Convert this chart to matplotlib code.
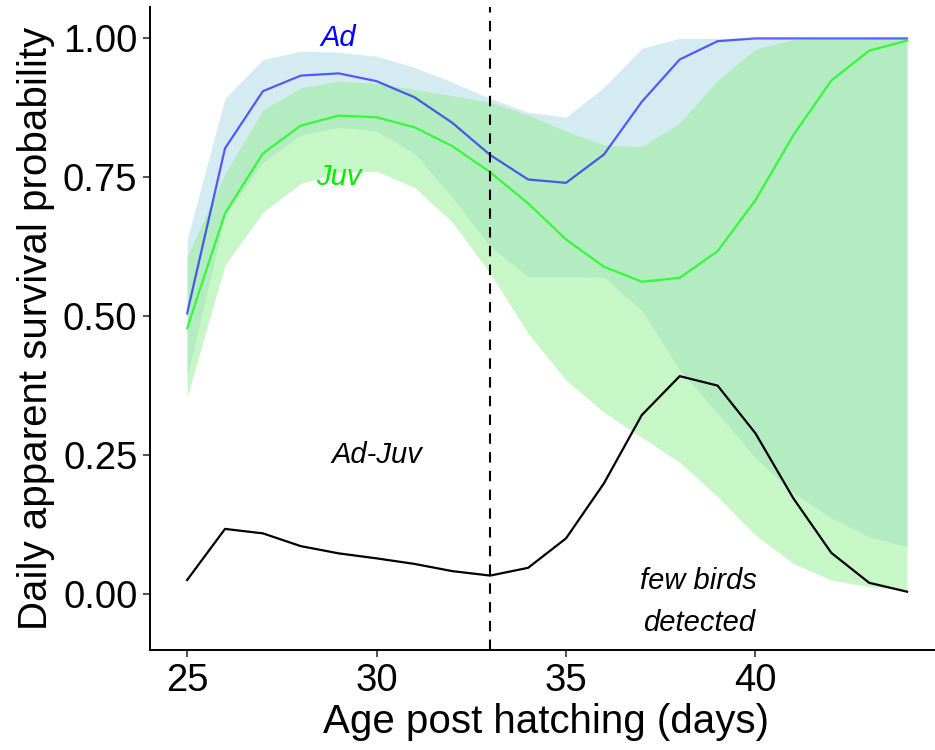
import matplotlib
matplotlib.use("Agg")
import matplotlib.pyplot as plt

plt.rcParams['font.family'] = ['Liberation Sans', 'DejaVu Sans']

age = list(range(25, 45))

ad_mean = [0.505, 0.802, 0.905, 0.933, 0.937, 0.923, 0.894, 0.848, 0.790, 0.746,
           0.740, 0.791, 0.886, 0.962, 0.995, 1.0, 1.0, 1.0, 1.0, 1.0]
ad_upper = [0.638, 0.892, 0.962, 0.977, 0.975, 0.968, 0.948, 0.921, 0.892, 0.867,
            0.858, 0.912, 0.982, 1.0, 1.0, 1.0, 1.0, 1.0, 1.0, 1.0]
ad_lower = [0.39, 0.681, 0.777, 0.826, 0.840, 0.833, 0.793, 0.714, 0.625, 0.571,
            0.571, 0.570, 0.510, 0.403, 0.325, 0.245, 0.182, 0.137, 0.103, 0.085]

juv_mean = [0.478, 0.685, 0.793, 0.843, 0.861, 0.858, 0.840, 0.806, 0.759, 0.703,
            0.638, 0.589, 0.562, 0.569, 0.617, 0.709, 0.826, 0.924, 0.978, 0.996]
juv_upper = [0.607, 0.757, 0.871, 0.911, 0.923, 0.919, 0.908, 0.897, 0.885, 0.862,
             0.833, 0.808, 0.805, 0.848, 0.924, 0.981, 0.998, 1.0, 1.0, 1.0]
juv_lower = [0.354, 0.592, 0.687, 0.739, 0.759, 0.761, 0.732, 0.669, 0.577, 0.469,
             0.385, 0.327, 0.282, 0.237, 0.175, 0.106, 0.055, 0.025, 0.013, 0.007]

ad_juv = [0.025, 0.117, 0.109, 0.086, 0.073, 0.064, 0.054, 0.041, 0.033, 0.047,
          0.100, 0.199, 0.322, 0.392, 0.375, 0.289, 0.172, 0.074, 0.020, 0.004]

y_ticks = [0, 0.25, 0.5, 0.75, 1.0]
y_tick_labels = ["0.00", "0.25", "0.50", "0.75", "1.00"]
x_ticks = [25, 30, 35, 40]
cutoff_age = 33

fig = plt.figure(figsize=(9.35, 7.5), dpi=100)
ax = fig.add_axes([0.1604, 0.1333, 0.847, 0.857])

ax.fill_between(age, ad_lower, ad_upper, color="#ADD8E6", alpha=0.5, lw=0)
ax.plot(age, ad_mean, color="blue", alpha=0.62, lw=1.6)
ax.fill_between(age, juv_lower, juv_upper, color="#90EE90", alpha=0.5, lw=0)
ax.plot(age, juv_mean, color="#00FF00", alpha=0.7, lw=1.6)
ax.plot(age, ad_juv, color="black", lw=1.6)
ax.axvline(cutoff_age, color="black", lw=1.5, dashes=(5, 4))

ax.text(29, 1.0, "Ad", color="blue", style="italic", fontsize=21, ha="center", va="center")
ax.text(29, 0.75, "Juv", color="#00EE00", style="italic", fontsize=21, ha="center", va="center")
ax.text(30, 0.25, "Ad-Juv", color="black", style="italic", fontsize=21, ha="center", va="center")
ax.text(38.5, -0.014, "few birds\ndetected", color="black", style="italic", fontsize=21,
        ha="center", va="center", linespacing=1.63)

ax.set_xlim(24.02, 44.92)
ax.set_ylim(-0.101, 1.056)
ax.set_xticks(x_ticks)
ax.set_yticks(y_ticks)
ax.set_yticklabels(y_tick_labels)
ax.tick_params(labelsize=27.5, length=5, width=1.2, pad=4, color="#333333")

for s in ["top", "right"]:
    ax.spines[s].set_visible(False)
for s in ["left", "bottom"]:
    ax.spines[s].set_linewidth(1.4)

ax.set_xlabel("Age post hatching (days)", fontsize=29)
ax.set_ylabel("Daily apparent survival probability", fontsize=29)
ax.yaxis.set_label_coords(-0.12, 0.5)
ax.xaxis.set_label_coords(0.5, -0.083)

fig.savefig("out.png", dpi=100)
